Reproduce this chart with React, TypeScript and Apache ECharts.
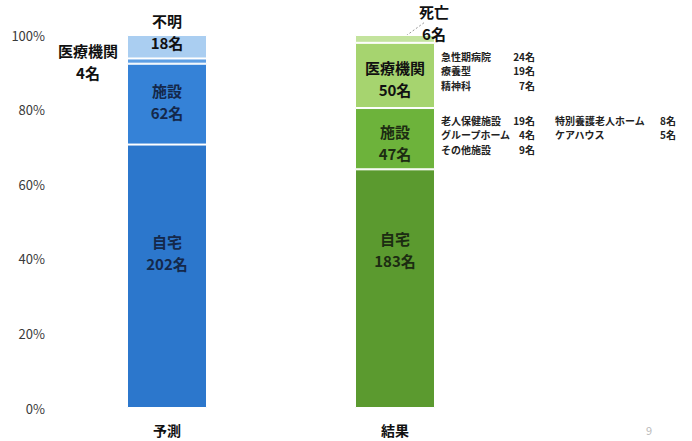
import React, { useEffect, useRef } from "react";
import * as echarts from "echarts";

const categories = ["予測", "結果"];
const homeCounts = [202, 183];
const facilityCounts = [62, 47];
const hospitalCounts = [4, 50];
const otherCounts = [18, 6];
const otherNames = ["不明", "死亡"];
const yTicks = [0, 20, 40, 60, 80, 100];

const hospitalTypes = ["急性期病院", "療養型", "精神科"];
const hospitalTypeCounts = [24, 19, 7];
const facilityTypesA = ["老人保健施設", "グループホーム", "その他施設"];
const facilityTypeCountsA = [19, 4, 9];
const facilityTypesB = ["特別養護老人ホーム", "ケアハウス"];
const facilityTypeCountsB = [8, 5];

const blue = { home: "#2c77cc", facility: "#3582d7", hospital: "#5e9fe4", other: "#aacef1" };
const green = { home: "#5b9a2f", facility: "#6db33b", hospital: "#a6d46f", other: "#c3e39d" };

const FONT = '"Noto Sans CJK JP", "Noto Sans", sans-serif';

export default function App() {
  const ref = useRef<HTMLDivElement>(null);
  useEffect(() => {
    document.body.style.margin = "0";
    const chart = echarts.init(ref.current!, null, { renderer: "svg" });
    const totals = categories.map(
      (_, i) => homeCounts[i] + facilityCounts[i] + hospitalCounts[i] + otherCounts[i]
    );
    const pct = (v: number, i: number) => (v / totals[i]) * 100;
    const inLabel = (name: string, v: number, color: string, dy: number) => ({
      show: true,
      position: "inside",
      offset: [0, dy],
      formatter: `${name}\n${v}名`,
      fontFamily: FONT,
      fontSize: 15,
      fontWeight: "bold",
      lineHeight: 22,
      color,
    });
    const outText = {
      fontFamily: FONT,
      fontSize: 15,
      fontWeight: "bold",
      lineHeight: 22,
      color: "#111",
      align: "center",
      verticalAlign: "middle",
    };
    const item = (v: number, i: number, color: string, label: any) => ({
      value: pct(v, i),
      itemStyle: { color },
      label,
    });

    const series: any[] = [
      {
        name: "自宅",
        type: "bar",
        stack: "s",
        barWidth: 80,
        itemStyle: { borderColor: "#fff", borderWidth: 1 },
        data: [
          item(homeCounts[0], 0, blue.home, inLabel("自宅", homeCounts[0], "#14284a", -24)),
          item(homeCounts[1], 1, green.home, inLabel("自宅", homeCounts[1], "#1c2c12", -39)),
        ],
      },
      {
        name: "施設",
        type: "bar",
        stack: "s",
        itemStyle: { borderColor: "#fff", borderWidth: 1 },
        data: [
          item(facilityCounts[0], 0, blue.facility, inLabel("施設", facilityCounts[0], "#14284a", -3)),
          item(facilityCounts[1], 1, green.facility, inLabel("施設", facilityCounts[1], "#1c2c12", 4)),
        ],
      },
      {
        name: "医療機関",
        type: "bar",
        stack: "s",
        itemStyle: { borderColor: "#fff", borderWidth: 1 },
        data: [
          item(hospitalCounts[0], 0, blue.hospital, {
            show: true,
            position: [-39, 3],
            formatter: `医療機関\n${hospitalCounts[0]}名`,
            ...outText,
          }),
          item(hospitalCounts[1], 1, green.hospital, inLabel("医療機関", hospitalCounts[1], "#111", 3)),
        ],
      },
      {
        name: "その他",
        type: "bar",
        stack: "s",
        itemStyle: { borderColor: "#fff", borderWidth: 1 },
        data: [
          item(otherCounts[0], 0, blue.other, {
            show: true,
            position: ["50%", -4],
            formatter: `${otherNames[0]}\n${otherCounts[0]}名`,
            ...outText,
          }),
          item(otherCounts[1], 1, green.other, {
            show: true,
            position: [79, -13],
            formatter: `${otherNames[1]}\n${otherCounts[1]}名`,
            ...outText,
          }),
        ],
      },
    ];

    const noteStyle = { fontFamily: FONT, fontSize: 10, fontWeight: "bold", fill: "#222" };
    const notes: any[] = [];
    const addCol = (names: string[], counts: number[], x: number, xr: number, y0: number) => {
      names.forEach((n, k) => {
        notes.push({ type: "text", left: x, top: y0 + k * 14.6, style: { ...noteStyle, text: n } });
        notes.push({
          type: "text",
          right: 692 - xr,
          top: y0 + k * 14.6,
          style: { ...noteStyle, text: `${counts[k]}名`, textAlign: "right" },
        });
      });
    };
    addCol(hospitalTypes, hospitalTypeCounts, 441, 535, 51);
    addCol(facilityTypesA, facilityTypeCountsA, 441, 535, 115);
    addCol(facilityTypesB, facilityTypeCountsB, 555, 676, 115);
    notes.push({
      type: "text",
      left: 646,
      top: 424,
      style: { text: "9", fontFamily: FONT, fontSize: 11, fill: "#bbb" },
    });

    chart.setOption({
      animation: false,
      grid: { left: 53, right: 183, top: 35, bottom: 33 },
      xAxis: {
        type: "category",
        data: categories,
        axisLine: { show: false },
        axisTick: { show: false },
        axisLabel: {
          fontFamily: FONT,
          fontSize: 14,
          fontWeight: "bold",
          color: "#111",
          margin: 15,
        },
      },
      yAxis: {
        type: "value",
        min: yTicks[0],
        max: yTicks[yTicks.length - 1],
        interval: yTicks[1] - yTicks[0],
        splitLine: { show: false },
        axisLine: { show: false },
        axisTick: { show: false },
        axisLabel: {
          formatter: "{value}%",
          fontFamily: FONT,
          fontSize: 13,
          color: "#3a3a3a",
          margin: 8,
        },
      },
      series,
      graphic: notes,
    });

    const top = chart.convertToPixel({ gridIndex: 0 }, [1, 100]) as number[];
    chart.setOption({
      graphic: [
        ...notes,
        {
          type: "line",
          shape: { x1: top[0] + 8, y1: top[1] + 3, x2: top[0] + 30, y2: top[1] - 13 },
          style: { stroke: "#999", lineWidth: 1, lineDash: [2, 2] },
        },
      ],
    });

    return () => chart.dispose();
  }, []);
  return <div ref={ref} style={{ width: 692, height: 441 }} />;
}
